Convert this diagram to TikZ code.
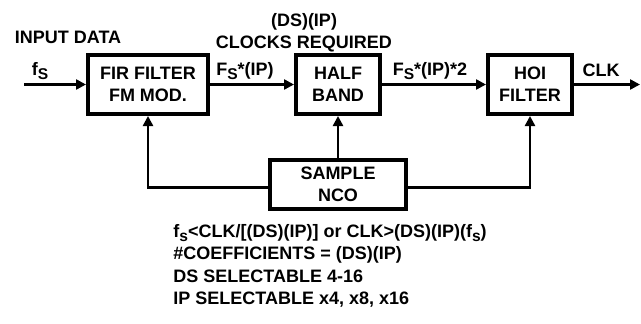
\documentclass[tikz,border=0pt]{standalone}
\usepackage{fontspec}
\setmainfont{Liberation Sans}
\usepackage{tikz}
\usetikzlibrary{arrows.meta, positioning}
\tikzstyle{arrow} = [-{Triangle[length=5pt,width=5pt]}, line width=1.2pt]
\newcommand{\lowsub}[1]{\raisebox{-2.2pt}{\fontsize{7.8}{9}\selectfont #1}}

\begin{document}
\begin{tikzpicture}[node distance=42pt,
    every node/.style={align=center, font=\bfseries\fontsize{9}{11}\selectfont},
    blk/.style={rectangle, draw, line width=2pt, minimum height=29.5pt, inner sep=0pt},
    lbl/.style={inner sep=0pt}
  ]
    \useasboundingbox (0,0) rectangle (320.5pt,161.5pt);
    \node[blk, minimum width=60pt] (fir) at (74pt,119.25pt) {FIR FILTER\\FM MOD.};
    \node[blk, minimum width=42pt, right=42pt of fir] (half) {HALF\\BAND};
    \node[blk, minimum width=42pt, right=52pt of half] (hoi) {HOI\\FILTER};
    \node[blk, minimum width=68pt, minimum height=24.5pt, below=20.75pt of half] (nco) {SAMPLE\\NCO};
    \coordinate[left=31pt of fir] (in);
    \coordinate[right=33pt of hoi] (out);

    \node[lbl] (indata) at (34pt,143pt) {INPUT DATA};
    \node[lbl] (fs) at (20pt,126pt) {f\lowsub{S}};
    \node[lbl] (fsip) at (122.5pt,126pt) {F\lowsub{S}*(IP)};
    \node[lbl] (fsip2) at (215pt,126pt) {F\lowsub{S}*(IP)*2};
    \node[lbl] (clk) at (300.5pt,126.5pt) {CLK};
    \node[lbl] (clocks) at (152pt,145pt) {(DS)(IP)\\CLOCKS REQUIRED};
    \node[lbl, anchor=west, align=left, font=\bfseries\fontsize{9}{11.2}\selectfont] (note) at (86.5pt,28.5pt)
      {f\lowsub{s}<CLK/[(DS)(IP)] or CLK>(DS)(IP)(f\lowsub{s})\\
       \#COEFFICIENTS = (DS)(IP)\\
       DS SELECTABLE 4-16\\
       IP SELECTABLE x4, x8, x16};

    \draw[arrow] (in) -- (fir);
    \draw[arrow] (fir) -- (half);
    \draw[arrow] (half) -- (hoi);
    \draw[arrow] (hoi) -- (out);
    \draw[arrow] (nco) -- (half);
    \draw[arrow] ([yshift=-1.75pt]nco.west) -| (fir);
    \draw[arrow] ([yshift=-1.75pt]nco.east) -| (hoi);
  \end{tikzpicture}
\end{document}
